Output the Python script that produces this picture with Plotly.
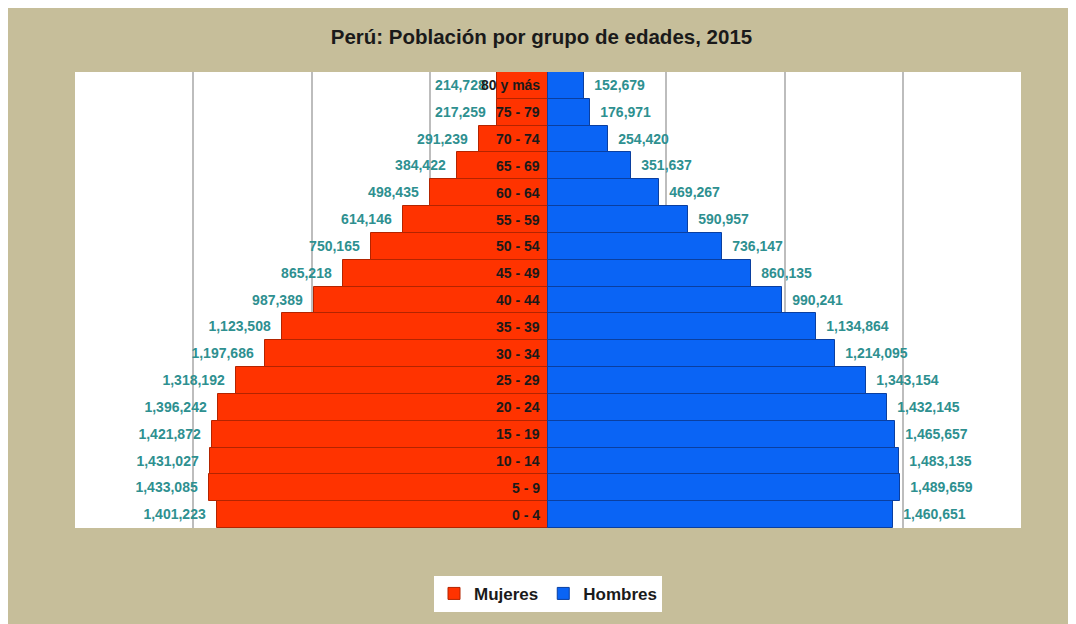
import plotly.graph_objects as go

categories = ["0 - 4", "5 - 9", "10 - 14", "15 - 19", "20 - 24", "25 - 29", "30 - 34",
              "35 - 39", "40 - 44", "45 - 49", "50 - 54", "55 - 59", "60 - 64",
              "65 - 69", "70 - 74", "75 - 79", "80 y más"]
mujeres = [1401223, 1433085, 1431027, 1421872, 1396242, 1318192, 1197686,
           1123508, 987389, 865218, 750165, 614146, 498435,
           384422, 291239, 217259, 214728]
hombres = [1460651, 1489659, 1483135, 1465657, 1432145, 1343154, 1214095,
           1134864, 990241, 860135, 736147, 590957, 469267,
           351637, 254420, 176971, 152679]

TAN = "#C6BE9A"
TEAL = "#2E9090"
FONT = "Liberation Sans, Arial, sans-serif"

def fmt(v):
    return f"{v:,}"

fig = go.Figure()
fig.add_trace(go.Bar(
    y=categories, x=[-v for v in mujeres], orientation="h", name="<b>Mujeres</b>",
    marker=dict(color="#FF3300", line=dict(color="#B32400", width=1)),
    text=["<b>" + fmt(v) + "</b>\u00a0\u00a0" for v in mujeres], textposition="outside",
    textfont=dict(color=TEAL, size=14, family=FONT), cliponaxis=False,
    hoverinfo="skip",
))
fig.add_trace(go.Bar(
    y=categories, x=hombres, orientation="h", name="<b>Hombres</b>",
    marker=dict(color="#0A64F5", line=dict(color="#0A3FA0", width=1)),
    text=["\u00a0\u00a0<b>" + fmt(v) + "</b>" for v in hombres], textposition="outside",
    textfont=dict(color=TEAL, size=14, family=FONT), cliponaxis=False,
    hoverinfo="skip",
))

annotations = []
for c in categories:
    annotations.append(dict(
        x=0, y=c, xref="x", yref="y", text="<b>" + c + "</b>", showarrow=False,
        xanchor="right", xshift=-6, font=dict(size=14, color="#1A1A1A", family=FONT),
    ))

fig.update_layout(
    width=1068, height=616,
    margin=dict(l=67, r=55, t=64, b=94),
    paper_bgcolor=TAN, plot_bgcolor="white",
    barmode="overlay", bargap=0,
    title=dict(text="<b>Perú: Población por grupo de edades, 2015</b>",
               x=0.4995, xanchor="center", y=0.953, yanchor="middle",
               font=dict(size=20.5, color="#1A1A1A", family=FONT)),
    font=dict(family=FONT, color="#1A1A1A"),
    xaxis=dict(range=[-2000000, 2000000], tickvals=[-2000000, -1500000, -1000000, -500000, 0,
                                                     500000, 1000000, 1500000, 2000000],
               showticklabels=False, showgrid=True, gridcolor="#BDBDBD", gridwidth=2,
               zeroline=False, fixedrange=True),
    yaxis=dict(showticklabels=False, showgrid=False, zeroline=False,
               categoryorder="array", categoryarray=categories, fixedrange=True),
    legend=dict(orientation="h", x=0.5, xanchor="center", y=-0.105, yanchor="top",
                bgcolor="white", font=dict(size=17, color="#1A1A1A", family=FONT),
                itemwidth=30, traceorder="normal"),
    annotations=annotations,
    showlegend=True,
)

fig.write_html("out.html")
